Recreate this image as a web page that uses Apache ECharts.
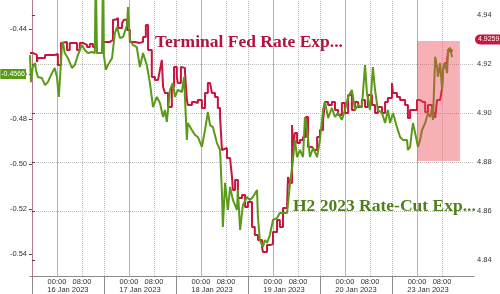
<!DOCTYPE html>
<html><head><meta charset="utf-8">
<script src="https://cdn.jsdelivr.net/npm/echarts@6/dist/echarts.min.js"></script>
<style>html,body{margin:0;padding:0;background:#fff}#c{width:500px;height:294px}</style>
</head><body><div id="c"></div>
<script>
// x = trading-session hours since 16 Jan session open (each session = 23h, 00:00 at +8h)
const fedHours = [-0.6,0.3,1.6,1.9,3.2,4.2,5.8,7.3,8.3,9.3,9.9,11.2,12.1,13.1,14.4,15.3,16.3,17.6,18.5,19.5,20.8,22.4,22.7,24.0,24.9,25.9,26.8,27.5,28.8,29.4,30.4,31.3,32.9,34.5,35.5,36.4,37.1,38.3,39.3,40.3,40.9,41.5,41.9,42.5,43.5,44.7,45.4,46.3,46.6,47.6,48.2,48.9,49.5,49.8,51.1,52.1,53.0,54.3,55.3,56.2,56.9,57.5,58.5,59.4,60.1,60.7,61.0,62.3,63.3,63.9,64.2,64.9,65.8,67.1,68.1,69.0,70.3,71.2,72.2,73.5,73.8,75.1,76.0,77.0,78.3,79.2,80.2,81.5,81.8,82.4,83.1,83.4,84.0,84.7,85.6,86.6,87.5,88.2,89.5,90.1,91.1,92.0,93.0,93.6,94.6,95.8,96.8,97.8,99.0,100.0,101.0,102.2,103.2,104.2,105.4,106.4,107.3,108.6,109.6,110.5,111.8,112.8,113.7,115.0,115.3,116.6,117.6,118.5,119.2,120.1,120.8,121.7,123.0,124.0,124.9,125.6,126.5,127.8,128.8,129.4,130.4,131.0,131.3,131.9,132.6,132.9,133.5,133.9,134.2];
const fedValues = [4.9245,4.9237,4.9208,4.9224,4.9224,4.9237,4.9237,4.9241,4.9196,4.9286,4.9290,4.9257,4.9286,4.9286,4.9257,4.9286,4.9278,4.9269,4.9282,4.9269,4.9245,4.9245,4.9290,4.9290,4.9298,4.9380,4.9388,4.9347,4.9367,4.9380,4.9339,4.9290,4.9286,4.9290,4.9310,4.9359,4.9257,4.9147,4.9135,4.9143,4.9176,4.9216,4.9106,4.9082,4.9024,4.9106,4.9188,4.9147,4.9122,4.9188,4.9184,4.9167,4.9053,4.9033,4.9045,4.9041,4.9053,4.9020,4.9082,4.9122,4.9114,4.9082,4.9065,4.9020,4.8984,4.8849,4.8857,4.8816,4.8808,4.8739,4.8686,4.8727,4.8653,4.8665,4.8616,4.8637,4.8535,4.8502,4.8482,4.8453,4.8433,4.8461,4.8465,4.8514,4.8563,4.8535,4.8612,4.8624,4.8739,4.8714,4.8951,4.8861,4.8918,4.8878,4.8890,4.8902,4.8984,4.8861,4.8869,4.8849,4.8902,4.8931,4.8971,4.9045,4.9033,4.9045,4.9012,4.8992,4.9041,4.9000,4.9073,4.9012,4.9045,4.9024,4.9053,4.9024,4.9073,4.9033,4.9000,4.9024,4.9000,4.9045,4.9061,4.9122,4.9082,4.9065,4.9053,4.9053,4.9033,4.8980,4.9012,4.9012,4.9053,4.9045,4.9045,4.9004,4.9033,4.9000,4.8980,4.9053,4.9053,4.9102,4.9176,4.9204,4.9216,4.9245,4.9265,4.9249,4.9259];
const cutHours = [-0.6,-0.3,0.3,1.0,1.3,1.9,3.2,4.2,5.1,6.4,7.3,8.0,8.6,9.6,9.9,10.5,11.5,12.8,13.7,14.7,16.0,16.9,17.9,19.2,20.1,20.4,20.8,22.4,22.7,23.0,23.6,24.3,25.6,26.5,27.2,28.1,29.1,30.4,30.7,31.3,32.3,33.5,34.5,35.5,36.7,37.7,38.7,39.9,40.9,41.9,42.5,43.1,44.1,45.0,45.7,46.6,47.9,48.6,49.5,49.8,51.1,52.1,53.0,54.3,55.3,56.2,56.9,57.8,59.1,60.1,60.7,61.0,61.7,62.6,63.3,64.2,65.5,65.8,66.5,67.4,68.7,69.6,70.6,71.9,72.2,72.8,73.8,74.4,75.1,76.0,77.0,78.3,79.2,80.2,81.5,82.4,83.4,84.0,84.7,85.6,86.6,87.2,87.9,88.8,89.8,91.1,92.0,93.0,93.6,94.6,95.8,96.8,97.8,99.0,100.0,101.0,102.2,103.2,104.2,105.4,106.4,107.0,108.0,108.9,109.6,110.5,111.8,112.8,113.7,114.4,115.3,116.6,117.6,118.5,119.8,120.1,120.8,121.4,121.7,122.4,123.3,124.0,124.6,125.6,126.5,127.2,127.8,128.1,128.8,129.4,129.7,130.4,131.0,131.3,131.9,132.6,132.9,133.5,134.2];
const cutValues = [-0.4516,-0.4636,-0.4569,-0.4551,-0.4582,-0.4613,-0.4618,-0.4649,-0.4636,-0.4596,-0.4573,-0.4613,-0.4702,-0.4480,-0.4458,-0.4507,-0.4529,-0.4573,-0.4560,-0.4516,-0.4471,-0.4493,-0.4507,-0.4502,-0.4507,-0.4150,-0.4507,-0.4507,-0.4150,-0.4516,-0.4582,-0.4560,-0.4529,-0.4418,-0.4391,-0.4440,-0.4436,-0.4382,-0.4302,-0.4449,-0.4471,-0.4480,-0.4569,-0.4507,-0.4560,-0.4640,-0.4747,-0.4702,-0.4729,-0.4791,-0.4760,-0.4813,-0.4671,-0.4640,-0.4702,-0.4671,-0.4680,-0.4613,-0.4893,-0.4818,-0.4849,-0.4871,-0.4880,-0.4924,-0.4849,-0.4769,-0.4827,-0.4836,-0.4907,-0.4938,-0.5129,-0.5280,-0.5084,-0.5204,-0.5102,-0.5160,-0.5204,-0.5116,-0.5293,-0.5182,-0.5147,-0.5160,-0.5147,-0.5116,-0.5236,-0.5338,-0.5369,-0.5338,-0.5351,-0.5316,-0.5249,-0.5240,-0.5218,-0.5218,-0.5218,-0.5093,-0.4982,-0.4893,-0.4969,-0.4938,-0.4969,-0.4791,-0.4849,-0.4969,-0.4929,-0.4969,-0.4893,-0.4760,-0.4724,-0.4796,-0.4751,-0.4791,-0.4773,-0.4804,-0.4760,-0.4702,-0.4671,-0.4760,-0.4738,-0.4747,-0.4560,-0.4684,-0.4760,-0.4569,-0.4671,-0.4760,-0.4773,-0.4818,-0.4760,-0.4818,-0.4773,-0.4836,-0.4880,-0.4893,-0.4893,-0.4938,-0.4924,-0.4849,-0.4818,-0.4862,-0.4924,-0.4893,-0.4849,-0.4818,-0.4773,-0.4791,-0.4747,-0.4804,-0.4524,-0.4569,-0.4613,-0.4551,-0.4671,-0.4582,-0.4551,-0.4596,-0.4493,-0.4484,-0.4524];

const dayLabels = ['16 Jan 2023','17 Jan 2023','18 Jan 2023','19 Jan 2023','20 Jan 2023','23 Jan 2023'];
const timeLabels = ['00:00','08:00'];
const leftTicks = [-0.54,-0.52,-0.50,-0.48,-0.46,-0.44];
const rightTicks = [4.84,4.86,4.88,4.90,4.92,4.94];
const cutTagValue = -0.4566;
const fedTagValue = 4.9259;
const boxHours = [123.0, 136.7];
const boxFed = [4.8804, 4.9294];
const titleFed = 'Terminal Fed Rate Exp...';
const titleCut = 'H2 2023 Rate-Cut Exp...';

const SESSION = 23, MID = 8, MORN = 16;
const sessionStarts = dayLabels.map((d,i)=>i*SESSION);
const midnights = sessionStarts.map(s=>s+MID);
const mornings = sessionStarts.map(s=>s+MORN);
const timeTicks = [];
sessionStarts.forEach(s=>{timeTicks.push(s+MID, s+MORN);});
const dayCenters = sessionStarts.map(s=>s+11.5);

const vLines = [];
midnights.forEach(v=>vLines.push({xAxis:v, lineStyle:{type:'solid', color:'#b4b4b4', width:1}}));
mornings.forEach(v=>vLines.push({xAxis:v, lineStyle:{type:'dotted', color:'#bdbdbd', width:1}}));
sessionStarts.slice(1).forEach(v=>vLines.push({xAxis:v, lineStyle:{type:'dotted', color:'#bdbdbd', width:1}}));

const RED = '#c8153f', GREEN = '#5b9a18';
const XMIN = -0.6, XMAX = 141.2;
const chart = echarts.init(document.getElementById('c'), null, {renderer:'canvas'});
chart.setOption({
  animation:false,
  backgroundColor:'#fff',
  grid:{left:30, right:26, top:0, bottom:18},
  xAxis:[{
    type:'value', min:XMIN, max:XMAX, position:'bottom',
    axisLine:{show:true, lineStyle:{color:'#8a8a8a', width:1}},
    axisTick:{show:true, customValues:sessionStarts, length:18, lineStyle:{color:'#8a8a8a'}},
    axisLabel:{customValues:timeTicks, margin:2, fontSize:7.5, color:'#333', fontFamily:'Liberation Sans',
      formatter:v=>timeLabels[(Math.round(v)%SESSION)===MID?0:1]},
    splitLine:{show:false}
  },{
    type:'value', min:XMIN, max:XMAX, position:'bottom',
    axisLine:{show:false}, axisTick:{show:false},
    axisLabel:{customValues:dayCenters, margin:9.5, fontSize:7.5, color:'#333', fontFamily:'Liberation Sans',
      formatter:v=>dayLabels[Math.round((v-11.5)/SESSION)]},
    splitLine:{show:false}
  }],
  yAxis:[{
    type:'value', position:'left', min:-0.5498, max:-0.4271,
    axisLine:{show:true, lineStyle:{color:'#9a9a9a'}},
    axisTick:{show:true, customValues:leftTicks, length:3, lineStyle:{color:'#444'}},
    axisLabel:{customValues:leftTicks, margin:3, fontSize:7.5, color:'#333', fontFamily:'Liberation Sans', formatter:v=>v.toFixed(2)},
    splitLine:{show:false}
  },{
    type:'value', position:'right', min:4.8335, max:4.9461,
    axisLine:{show:true, lineStyle:{color:'#b07a8a'}},
    axisTick:{show:true, customValues:rightTicks, length:3, lineStyle:{color:'#444'}},
    axisLabel:{customValues:rightTicks, margin:3, fontSize:7.5, color:'#333', fontFamily:'Liberation Sans', formatter:v=>v.toFixed(2)},
    splitLine:{show:true, showMinLine:false, showMaxLine:false, lineStyle:{type:'dotted', color:'#bdbdbd'}}
  }],
  series:[{
    name:'fed', type:'line', xAxisIndex:0, yAxisIndex:1, symbol:'none', z:3, step:'end',
    data:fedHours.map((h,i)=>[h,fedValues[i]]),
    lineStyle:{color:RED, width:2},
    markLine:{silent:true, symbol:['none','none'], z:7, animation:false,
      label:{show:false},
      data:[{yAxis:fedTagValue, lineStyle:{color:'rgba(0,0,0,0)', width:0}, label:{show:true, position:'end', distance:1, formatter:String(fedTagValue),
        backgroundColor:RED, color:'#fff', fontSize:7, fontFamily:'Liberation Sans', padding:[2,1,1,3], borderRadius:[5,0,0,5]}}]},
    markArea:{silent:true, z:6, itemStyle:{color:'rgba(236,66,78,0.42)'},
      data:[[{xAxis:boxHours[0], yAxis:boxFed[1]},{xAxis:boxHours[1], yAxis:boxFed[0]}]]}
  },{
    name:'cut', type:'line', xAxisIndex:0, yAxisIndex:0, symbol:'none', z:4,
    data:cutHours.map((h,i)=>[h,cutValues[i]]),
    lineStyle:{color:GREEN, width:2},
    markLine:{silent:true, symbol:['none','none'], z:1, animation:false,
      label:{show:false},
      data:vLines}
  },{
    name:'cutTag', type:'line', xAxisIndex:0, yAxisIndex:0, symbol:'none', z:7, data:[],
    markLine:{silent:true, symbol:['none','none'], z:7, animation:false,
      data:[{yAxis:cutTagValue, lineStyle:{color:'rgba(0,0,0,0)', width:0}, label:{show:true, position:'start', distance:4, formatter:String(cutTagValue),
        backgroundColor:GREEN, color:'#fff', fontSize:7, fontFamily:'Liberation Sans', padding:[2,1,1,1]}}]}
  }],
  graphic:[
    {type:'text', left:155, top:33, silent:true, z:10, style:{text:titleFed, font:'bold 17.5px "Liberation Serif"', fill:'#b3123e'}},
    {type:'text', left:293, top:197, silent:true, z:10, style:{text:titleCut, font:'bold 17.5px "Liberation Serif"', fill:'#4f7f1b'}}
  ]
});
</script></body></html>
